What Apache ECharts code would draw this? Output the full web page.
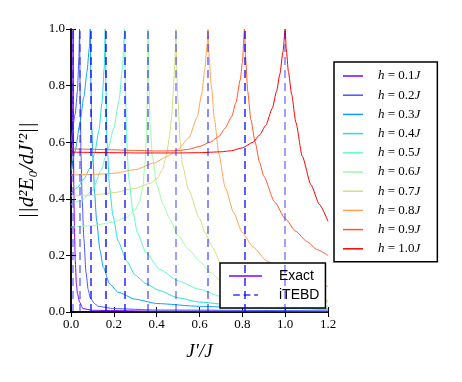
<!DOCTYPE html>
<html>
<head>
<meta charset="utf-8">
<script src="https://cdn.jsdelivr.net/npm/echarts@6/dist/echarts.min.js"></script>
<style>
html, body { margin: 0; padding: 0; background: #fff; }
#main { width: 462px; height: 382px; }
</style>
</head>
<body>
<div id="main"></div>
<script>
// h values of the exact curves, peak positions J'=h^2 (iTEBD dashed lines)
var hLabels = ['0.1', '0.2', '0.3', '0.4', '0.5', '0.6', '0.7', '0.8', '0.9', '1.0'];
var itebdPeaks = [0.01, 0.04, 0.09, 0.16, 0.25, 0.36, 0.49, 0.64, 0.81, 1.0];
var xTicks = [0, 0.2, 0.4, 0.6, 0.8, 1.0, 1.2];
var yTicks = [0, 0.2, 0.4, 0.6, 0.8, 1.0];

// exact curves, [J'/J, ||d2E0/dJ'2||]
var h01 = [[0, 0.45], [0.005, 0.55], [0.008, 0.7], [0.01, 1.0], [0.011, 0.7], [0.013, 0.45], [0.016, 0.3],
  [0.02, 0.18], [0.025, 0.1], [0.03, 0.065], [0.04, 0.035], [0.056, 0.012], [0.1, 0.006], [0.4, 0.003], [1.2, 0.002]];
var h02 = [[0, 0.6], [0.02, 0.7], [0.03, 0.78], [0.037, 0.9], [0.04, 1.0], [0.043, 0.75], [0.047, 0.55],
  [0.052, 0.4], [0.06, 0.26], [0.07, 0.14], [0.08, 0.08], [0.09, 0.05], [0.11, 0.03], [0.126, 0.02],
  [0.2, 0.012], [0.4, 0.007], [1.2, 0.004]];
var h03 = [[0, 0.5], [0.02, 0.57], [0.04, 0.66], [0.06, 0.76], [0.075, 0.85], [0.085, 0.93], [0.09, 1.0],
  [0.093, 0.8], [0.097, 0.65], [0.103, 0.54], [0.11, 0.42], [0.12, 0.32], [0.135, 0.22], [0.15, 0.16],
  [0.18, 0.1], [0.22, 0.07], [0.3, 0.045], [0.4, 0.03], [0.6, 0.02], [0.8, 0.015], [1.2, 0.01]];
var h04 = [[0, 0.42], [0.03, 0.44], [0.06, 0.47], [0.09, 0.51], [0.11, 0.56], [0.13, 0.64], [0.145, 0.74],
  [0.155, 0.86], [0.16, 1.0], [0.163, 0.8], [0.168, 0.6], [0.18, 0.44], [0.196, 0.34], [0.22, 0.25],
  [0.26, 0.18], [0.3, 0.13], [0.35, 0.1], [0.415, 0.075], [0.5, 0.05], [0.6, 0.035], [0.8, 0.02],
  [1.0, 0.015], [1.2, 0.01]];
var h05 = [[0, 0.38], [0.05, 0.395], [0.1, 0.43], [0.14, 0.5], [0.17, 0.57], [0.2, 0.65], [0.225, 0.75],
  [0.24, 0.86], [0.25, 1.0], [0.254, 0.8], [0.26, 0.6], [0.27, 0.47], [0.29, 0.35], [0.31, 0.28],
  [0.35, 0.21], [0.415, 0.15], [0.5, 0.11], [0.6, 0.08], [0.7, 0.055], [0.8, 0.04], [1.0, 0.025], [1.2, 0.02]];
var h06 = [[0, 0.3], [0.1, 0.305], [0.2, 0.318], [0.26, 0.335], [0.3, 0.36], [0.32, 0.39], [0.335, 0.44],
  [0.345, 0.52], [0.352, 0.62], [0.357, 0.78], [0.36, 1.0], [0.364, 0.8], [0.37, 0.65], [0.38, 0.55],
  [0.4, 0.45], [0.43, 0.38], [0.46, 0.33], [0.5, 0.27], [0.55, 0.22], [0.6, 0.18], [0.65, 0.14],
  [0.7, 0.11], [0.8, 0.08], [0.9, 0.06], [1.0, 0.05], [1.2, 0.035]];
var h07 = [[0, 0.41], [0.1, 0.413], [0.2, 0.422], [0.3, 0.437], [0.37, 0.455], [0.4, 0.47], [0.425, 0.5],
  [0.445, 0.55], [0.46, 0.62], [0.47, 0.69], [0.477, 0.77], [0.485, 0.88], [0.49, 1.0], [0.494, 0.85],
  [0.5, 0.74], [0.51, 0.6], [0.52, 0.52], [0.55, 0.43], [0.6, 0.33], [0.626, 0.28], [0.66, 0.23],
  [0.7, 0.17], [0.8, 0.11], [0.9, 0.08], [1.0, 0.065], [1.1, 0.05], [1.2, 0.04]];
var h08 = [[0, 0.484], [0.1, 0.486], [0.2, 0.49], [0.3, 0.503], [0.39, 0.527], [0.45, 0.55], [0.5, 0.575],
  [0.55, 0.615], [0.59, 0.69], [0.61, 0.77], [0.625, 0.86], [0.635, 0.94], [0.64, 1.0], [0.645, 0.9],
  [0.655, 0.8], [0.67, 0.68], [0.69, 0.56], [0.72, 0.44], [0.76, 0.35], [0.8, 0.28], [0.85, 0.23],
  [0.915, 0.18], [1.0, 0.14], [1.1, 0.11], [1.2, 0.09]];
var h09 = [[0, 0.576], [0.1, 0.575], [0.2, 0.573], [0.3, 0.571], [0.4, 0.569], [0.5, 0.57], [0.55, 0.575],
  [0.6, 0.585], [0.65, 0.6], [0.69, 0.62], [0.72, 0.65], [0.75, 0.69], [0.77, 0.74], [0.79, 0.82],
  [0.8, 0.88], [0.81, 1.0], [0.815, 0.9], [0.825, 0.78], [0.84, 0.68], [0.86, 0.6], [0.88, 0.53],
  [0.9, 0.48], [0.95, 0.39], [1.0, 0.33], [1.05, 0.285], [1.1, 0.25], [1.15, 0.22], [1.2, 0.2]];
var h10 = [[0, 0.565], [0.1, 0.564], [0.2, 0.563], [0.3, 0.562], [0.4, 0.562], [0.5, 0.562], [0.6, 0.563],
  [0.7, 0.566], [0.75, 0.57], [0.8, 0.58], [0.85, 0.6], [0.88, 0.625], [0.91, 0.66], [0.94, 0.72],
  [0.96, 0.78], [0.975, 0.84], [0.99, 0.92], [1.0, 1.0], [1.005, 0.93], [1.015, 0.85], [1.03, 0.77],
  [1.05, 0.67], [1.08, 0.55], [1.12, 0.45], [1.16, 0.38], [1.2, 0.32]];
var curves = [h01, h02, h03, h04, h05, h06, h07, h08, h09, h10];

// rainbow colormap
var colors = ['#8000ff', '#4757fb', '#0ea4f0', '#2adddd', '#63fbc3', '#9cfba4', '#d4dd80', '#ffa457', '#ff572c', '#ff0000'];
var dashOpacity = [0.5, 0.55, 0.85, 0.9, 0.85, 0.6, 0.5, 0.6, 0.85, 0.5];

var chart = echarts.init(document.getElementById('main'), null, { renderer: 'canvas' });

var serif = "'Liberation Serif', 'DejaVu Serif', serif";
var hNames = hLabels.map(function (v) { return 'h = ' + v + 'J'; });
var dashIcon = 'path://M0,0h9v2h-9z M14,0h9v2h-9z M28,0h5v2h-5z';

var series = [];
for (var i = 0; i < curves.length; i++) {
  series.push({
    name: hNames[i],
    type: 'line',
    data: curves[i],
    symbol: 'none',
    smooth: 0.2,
    smoothMonotone: 'x',
    clip: true,
    lineStyle: { color: colors[i], width: 1 },
    itemStyle: { color: colors[i] },
    z: 3
  });
}
// legend only entry
series.push({
  name: 'Exact', type: 'line', data: [], symbol: 'none',
  lineStyle: { color: '#8000ff', width: 1 }, itemStyle: { color: '#8000ff' }
});
series.push({
  name: 'iTEBD', type: 'line', data: [], symbol: 'none',
  lineStyle: { color: '#2a2aff', width: 1.3, type: [8, 5] }, itemStyle: { color: '#3a3aff' },
  markLine: {
    silent: true,
    symbol: ['none', 'none'],
    label: { show: false },
    lineStyle: { color: '#0000ff', width: 1.5, type: [8, 5] },
    data: itebdPeaks.map(function (p, k) {
      return { xAxis: p, lineStyle: { opacity: dashOpacity[k] } };
    })
  },
  z: 4
});

var tickLabel = function (v) { return v.toFixed(1); };

var option = {
  backgroundColor: '#ffffff',
  animation: false,
  grid: { left: 71, right: 134, top: 29, bottom: 70 },
  xAxis: [{
    type: 'value', min: 0, max: 1.2, interval: 0.2,
    name: "J\u2032/J", nameLocation: 'middle', nameGap: 30,
    nameTextStyle: { fontFamily: serif, fontStyle: 'italic', fontSize: 19, color: '#000' },
    axisLine: { show: true, lineStyle: { color: '#000', width: 1.5 } },
    axisTick: { inside: true, length: 5, lineStyle: { color: '#000' } },
    axisLabel: { formatter: tickLabel, fontFamily: serif, fontSize: 13, color: '#000', margin: 6 },
    splitLine: { show: false }
  }, {
    type: 'value', min: 0, max: 1.2, interval: 0.2, position: 'top',
    axisLine: { show: true, lineStyle: { color: '#000', width: 1.5 } },
    axisTick: { inside: true, length: 5, lineStyle: { color: '#000' } },
    axisLabel: { show: false }, splitLine: { show: false }
  }],
  yAxis: [{
    type: 'value', min: 0, max: 1.0, interval: 0.2,
    name: '||d\u00b2E\u2080/dJ\u2032\u00b2||', nameLocation: 'middle', nameGap: 33,
    nameTextStyle: { fontFamily: serif, fontStyle: 'italic', fontSize: 21, color: '#000' },
    axisLine: { show: true, lineStyle: { color: '#000', width: 1.5 } },
    axisTick: { inside: true, length: 5, lineStyle: { color: '#000' } },
    axisLabel: { formatter: tickLabel, fontFamily: serif, fontSize: 13, color: '#000', margin: 6 },
    splitLine: { show: false }
  }, {
    type: 'value', min: 0, max: 1.0, interval: 0.2, position: 'right',
    axisLine: { show: true, lineStyle: { color: '#000', width: 1.5 } },
    axisTick: { inside: true, length: 5, lineStyle: { color: '#000' } },
    axisLabel: { show: false }, splitLine: { show: false }
  }],
  legend: [{
    data: hNames.map(function (n) { return { name: n, icon: 'rect' }; }),
    selectedMode: false,
    orient: 'vertical',
    left: 334, top: 62,
    padding: [7, 17, 6, 9],
    itemWidth: 20, itemHeight: 1.5, itemGap: 5.2,
    backgroundColor: '#fff',
    borderColor: '#000', borderWidth: 1.5, borderRadius: 0,
    formatter: function (n) { return '{i|h} = ' + n.slice(4, -1) + '{i|J}'; },
    textStyle: {
      fontFamily: serif, fontSize: 13, color: '#000', lineHeight: 14, padding: [0, 0, 0, 10],
      rich: { i: { fontFamily: serif, fontStyle: 'italic', fontSize: 13 } }
    }
  }, {
    data: [{ name: 'Exact', icon: 'rect' }, { name: 'iTEBD', icon: dashIcon }],
    selectedMode: false,
    orient: 'vertical',
    left: 220, top: 263,
    padding: [6, 6, 6, 9],
    itemWidth: 33, itemHeight: 1.5, itemGap: 5,
    backgroundColor: '#fff',
    borderColor: '#000', borderWidth: 1.5, borderRadius: 0,
    textStyle: { fontFamily: "'Liberation Sans', 'DejaVu Sans', sans-serif", fontSize: 14, color: '#000', lineHeight: 14, padding: [0, 0, 0, 12] }
  }],
  series: series
};

chart.setOption(option);
</script>
</body>
</html>
